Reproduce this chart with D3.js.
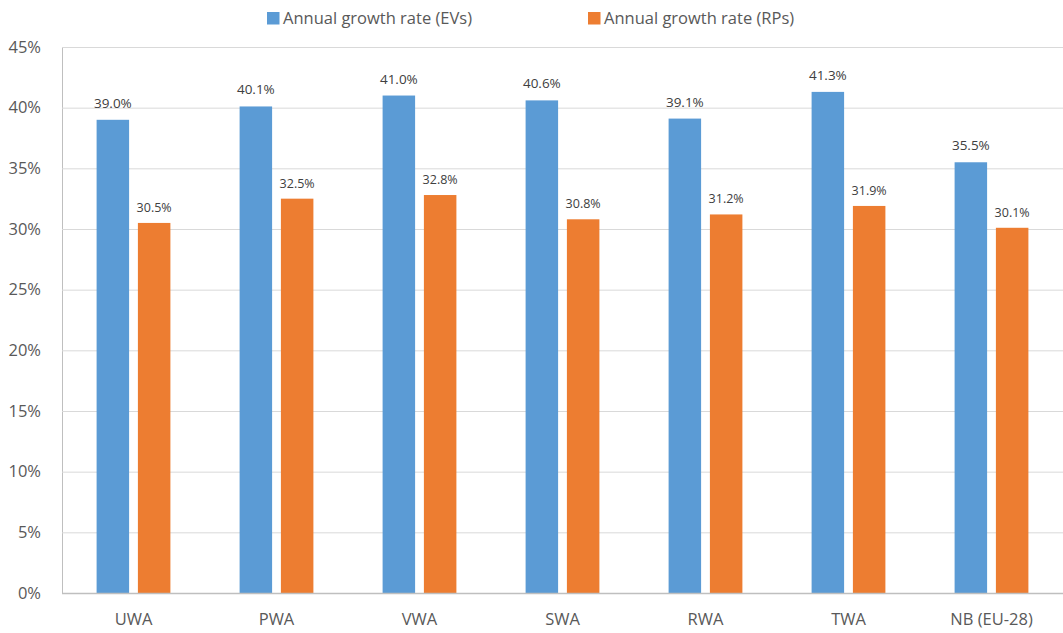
<!DOCTYPE html>
<html><head><meta charset="utf-8">
<script src="https://cdn.jsdelivr.net/npm/d3@7"></script>
<style>body{margin:0;background:#fff}svg{display:block}</style>
</head><body>
<svg id="c" width="1063" height="633"></svg>
<script>
const categories = ["UWA","PWA","VWA","SWA","RWA","TWA","NB (EU-28)"];
const seriesNames = ["Annual growth rate (EVs)","Annual growth rate (RPs)"];
const evs = [39.0,40.1,41.0,40.6,39.1,41.3,35.5];
const rps = [30.5,32.5,32.8,30.8,31.2,31.9,30.1];
const yTicks = [0,5,10,15,20,25,30,35,40,45];
const colors = ["#5B9BD5","#ED7D31"];

const svg = d3.select("#c");
const font = "'Open Sans', sans-serif";
const m = {l:62, r:1063, t:47, b:593};
const x = d3.scaleBand().domain(categories).range([m.l, m.r]).paddingInner(0).paddingOuter(0);
const y = d3.scaleLinear().domain([0,45]).range([m.b, m.t]);

const barW = 32.5, gap = 8.8;
const xOff = (x.bandwidth() - 2*barW - gap)/2;

// gridlines
const yAxis = d3.axisLeft(y).tickValues(yTicks).tickSize(-(m.r-m.l)).tickFormat(d=>d+"%");
const ga = svg.append("g").attr("transform",`translate(${m.l},0)`).call(yAxis);
ga.select(".domain").attr("stroke","#bfbfbf");
ga.selectAll(".tick line").attr("stroke","#d9d9d9").attr("stroke-width",1);
ga.selectAll(".tick text").attr("x",-21).attr("fill","#595959").style("font-family",font).style("font-size","16.5px");

// bars
const series = [evs, rps];
series.forEach((vals,si)=>{
  svg.append("g").selectAll("rect").data(vals).join("rect")
    .attr("x",(d,i)=>x(categories[i]) + xOff + si*(barW+gap))
    .attr("width",barW)
    .attr("y",d=>y(d))
    .attr("height",d=>y(0)-y(d))
    .attr("fill",colors[si]);
  svg.append("g").selectAll("text").data(vals).join("text")
    .attr("x",(d,i)=>x(categories[i]) + xOff + si*(barW+gap) + barW/2)
    .attr("y",d=>y(d) - (si===0?12:11))
    .attr("text-anchor","middle")
    .attr("fill","#404040")
    .style("font-family",font)
    .style("font-size", si===0 ? "13.5px" : "12.5px")
    .text(d=>d.toFixed(1)+"%");
});

// baseline
svg.append("line").attr("x1",m.l).attr("x2",m.r).attr("y1",y(0)+0.5).attr("y2",y(0)+0.5).attr("stroke","#bfbfbf").attr("stroke-width",1.5);

// x axis
const xa = d3.axisBottom(x).tickSize(0).tickPadding(0);
const gx = svg.append("g").attr("transform",`translate(0,${m.b})`).call(xa);
gx.select(".domain").remove();
gx.selectAll(".tick text").attr("y",20).attr("dy","0.71em").attr("fill","#595959").style("font-family",font).style("font-size","16.5px");

// legend
const legX = [267, 588];
seriesNames.forEach((n,i)=>{
  const g = svg.append("g");
  g.append("rect").attr("x",legX[i]).attr("y",12).attr("width",12.5).attr("height",12.5).attr("fill",colors[i]);
  g.append("text").attr("x",legX[i]+16).attr("y",18.5).attr("dy","0.35em").attr("fill","#595959")
    .style("font-family",font).style("font-size","16.5px").text(n);
});
</script>
</body></html>
